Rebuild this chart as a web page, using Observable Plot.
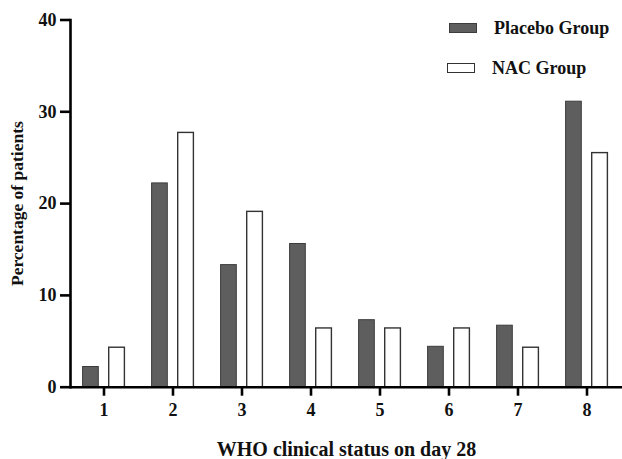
<!DOCTYPE html>
<html>
<head>
<meta charset="utf-8">
<script src="https://cdn.jsdelivr.net/npm/d3@7"></script>
<script src="https://cdn.jsdelivr.net/npm/@observablehq/plot@0.6"></script>
<style>
  html, body { margin: 0; padding: 0; background: #fff; }
  #wrap { position: relative; width: 622px; height: 459px; font-family: "Liberation Serif", "Times New Roman", serif; font-weight: bold; }
  #legend { position: absolute; left: 449px; top: 14px; }
  .item { position: absolute; white-space: nowrap; font-size: 18px; line-height: 20px; color: #111; }
  .sw { position: absolute; width: 26px; height: 8px; box-sizing: content-box; }
</style>
</head>
<body>
<div id="wrap"></div>
<script>
const categories = ["1", "2", "3", "4", "5", "6", "7", "8"];
const placebo = [2.2, 22.2, 13.3, 15.6, 7.3, 4.4, 6.7, 31.1];
const nac = [4.3, 27.7, 19.1, 6.4, 6.4, 6.4, 4.3, 25.5];
const seriesNames = ["Placebo Group", "NAC Group"];
const yTicks = [0, 10, 20, 30, 40];
const xTitle = "WHO clinical status on day 28";
const yTitle = "Percentage of patients";

const placeboData = categories.map((c, i) => ({cat: c, value: placebo[i]}));
const nacData = categories.map((c, i) => ({cat: c, value: nac[i]}));

const plot = Plot.plot({
  width: 622,
  height: 459,
  marginTop: 19.5,
  marginBottom: 72.3,
  marginLeft: 70,
  marginRight: 0,
  style: {fontFamily: "'Liberation Serif', 'Times New Roman', serif", fontWeight: "bold", fontSize: "18px", color: "#111", background: "#fff", overflow: "visible"},
  x: {domain: categories, range: [66.1, 624.2], padding: 0},
  y: {domain: [0, 40]},
  marks: [
    Plot.barY(placeboData, {x: "cat", y: "value", fill: "#5e5e5e", stroke: "#3c3c3c", strokeWidth: 1, insetLeft: 13.6, insetRight: 39.7}),
    Plot.barY(nacData, {x: "cat", y: "value", fill: "#ffffff", stroke: "#333", strokeWidth: 1.4, insetLeft: 39.7, insetRight: 13.6}),
    Plot.ruleY([0], {stroke: "#000", strokeWidth: 2.6}),
    Plot.frame({anchor: "left", stroke: "#000", strokeWidth: 2.6}),
    Plot.axisY({ticks: yTicks, tickSize: 10, tickPadding: 4, strokeWidth: 2.6, stroke: "#000", fontSize: 18, fontWeight: "bold", label: null}),
    Plot.axisX({tickSize: 9, tickPadding: 7, strokeWidth: 2.6, stroke: "#000", fontSize: 18, fontWeight: "bold", label: null}),
    Plot.text([xTitle], {frameAnchor: "bottom", textAnchor: "middle", lineAnchor: "middle", dy: 62, fontSize: 20, fontWeight: "bold", fill: "#111"}),
    Plot.text([yTitle], {frameAnchor: "left", textAnchor: "middle", lineAnchor: "middle", rotate: -90, dx: -53, fontSize: 17.5, fontWeight: "bold", fill: "#111"})
  ]
});

const wrap = document.getElementById("wrap");
wrap.appendChild(plot);

const legend = document.createElement("div");
legend.id = "legend";
const swatchStyles = [
  {fill: "#5e5e5e", stroke: "#3c3c3c"},
  {fill: "#ffffff", stroke: "#333"}
];
seriesNames.forEach((name, i) => {
  const sw = document.createElement("div");
  sw.className = "sw";
  sw.style.left = (i === 0 ? 0 : -2) + "px";
  sw.style.top = (i === 0 ? 9 : 49) + "px";
  sw.style.background = swatchStyles[i].fill;
  sw.style.border = "1px solid " + swatchStyles[i].stroke;
  legend.appendChild(sw);
  const t = document.createElement("div");
  t.className = "item";
  t.style.left = (i === 0 ? 45 : 43) + "px";
  t.style.top = (i === 0 ? 4 : 44) + "px";
  t.textContent = name;
  legend.appendChild(t);
});
wrap.appendChild(legend);
</script>
</body>
</html>
